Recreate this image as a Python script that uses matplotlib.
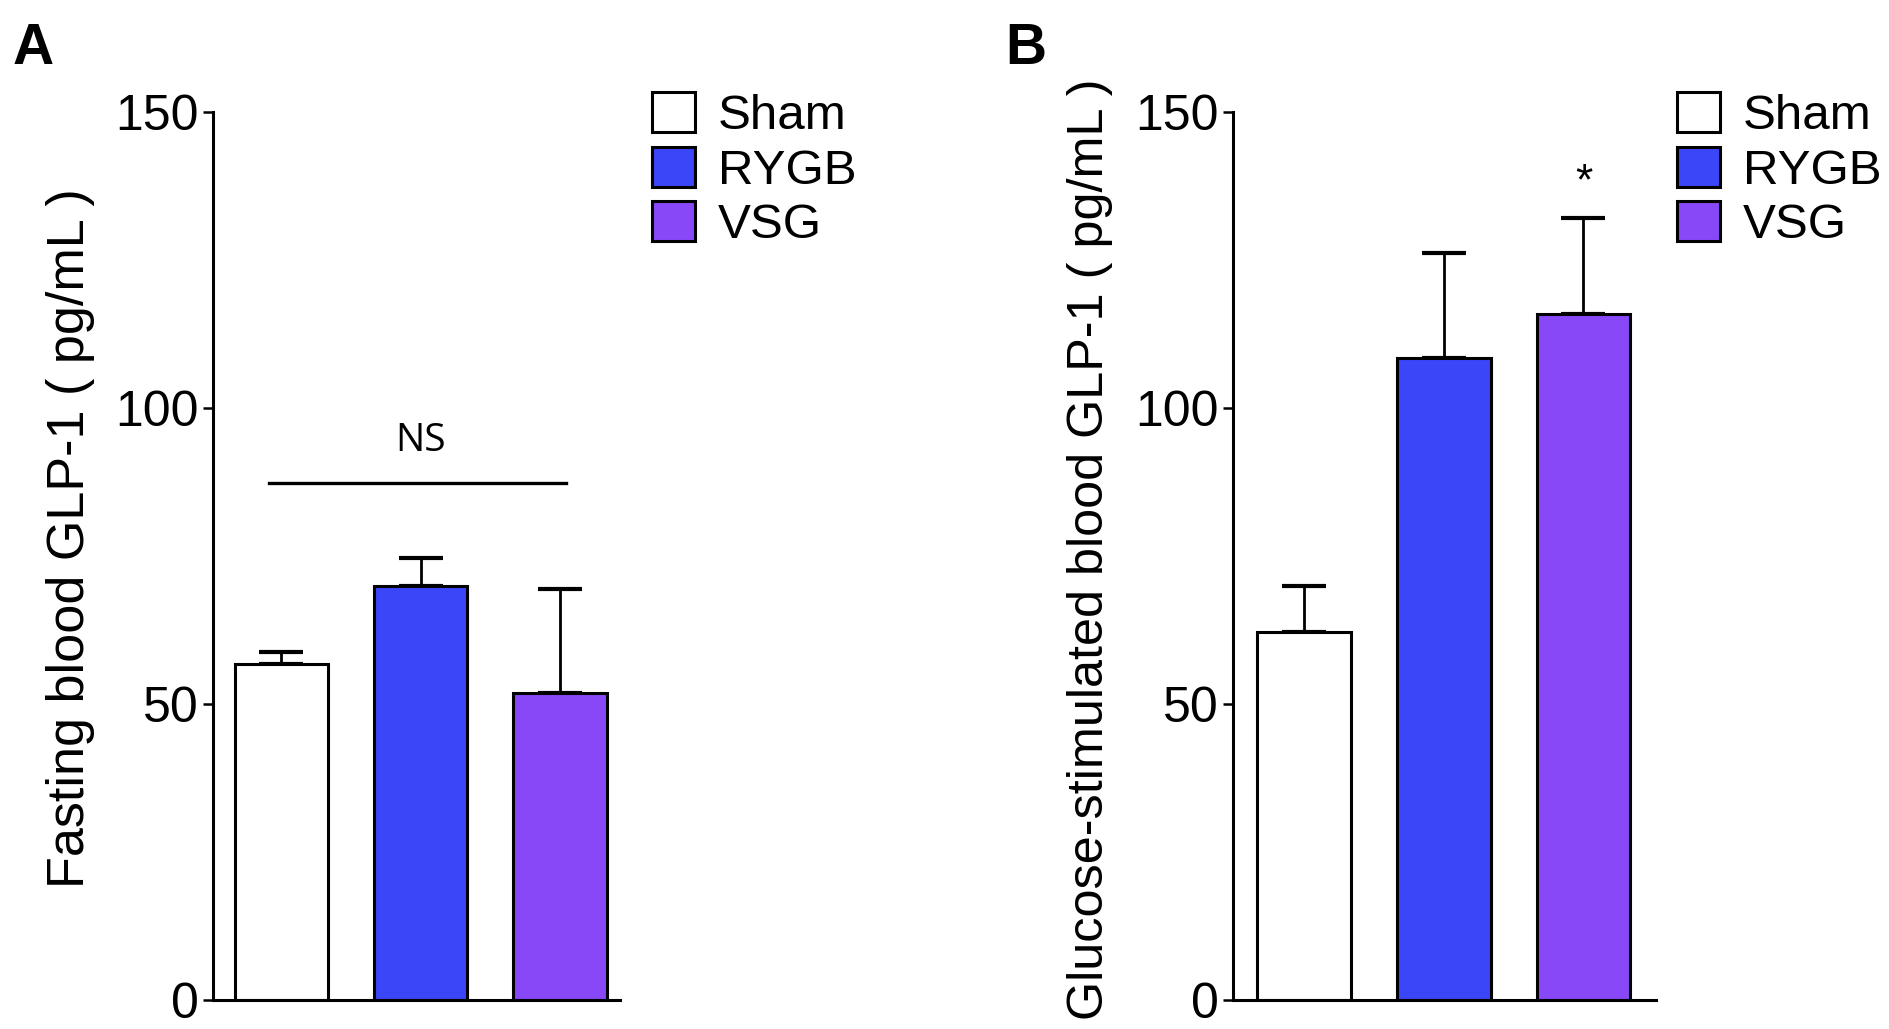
import matplotlib
matplotlib.use("Agg")
import matplotlib.pyplot as plt
import numpy as np

plt.rcParams['font.family'] = ['Liberation Sans', 'DejaVu Sans']

groups = ["Sham", "RYGB", "VSG"]
colors = ["#FFFFFF", "#3A46F8", "#8848F8"]

fasting_mean = [56.8, 70.0, 51.8]
fasting_err = [2.0, 4.7, 17.7]

glucose_mean = [62.2, 108.4, 115.9]
glucose_err = [7.8, 17.7, 16.2]

yticks = [0, 50, 100, 150]
ylabel_a = "Fasting blood GLP-1 ( pg/mL )"
ylabel_b = "Glucose-stimulated blood GLP-1 ( pg/mL )"
ns_level = 87.4
ns_text_level = 94.4
star_level = 138.0

fig = plt.figure(figsize=(18.89, 10.29), dpi=100)
FW, FH = 1889, 1029

def make_ax(left_px, right_px):
    bottom_px, top_px = 1000, 112
    return fig.add_axes([left_px / FW, (FH - bottom_px) / FH,
                         (right_px - left_px) / FW, (bottom_px - top_px) / FH])

def style(ax, xlim, ylabel, label_xy, label_size):
    ax.set_ylim(0, 150)
    ax.set_xlim(*xlim)
    ax.set_yticks(yticks)
    ax.set_yticklabels([str(t) for t in yticks], fontsize=36)
    ax.set_xticks([])
    for s in ["top", "right"]:
        ax.spines[s].set_visible(False)
    for s in ["left", "bottom"]:
        ax.spines[s].set_linewidth(2.2)
    ax.tick_params(axis="y", length=7, width=1.8, pad=3.5, direction="out")
    ax.set_ylabel(ylabel, fontsize=label_size)
    ax.yaxis.set_label_coords(*label_xy)

def draw(ax, means, errs):
    x = np.arange(len(groups))
    bars = ax.bar(x, means, width=0.67, color=colors, edgecolor="black",
                  linewidth=2.2, zorder=2)
    ax.errorbar(x, means, yerr=[np.zeros(len(errs)), errs], fmt="none",
                ecolor="black", elinewidth=2.0, capsize=16, capthick=3, zorder=1)
    return bars

def legend(ax, bars, x_px, y_px):
    leg = ax.legend(bars, groups, loc="upper left",
                    bbox_to_anchor=(x_px / FW, (FH - y_px) / FH),
                    bbox_transform=fig.transFigure, frameon=False, fontsize=35.5,
                    borderpad=0, borderaxespad=0, handlelength=0.88,
                    handleheight=0.88, handletextpad=0.45, labelspacing=0.15)
    for p in leg.get_patches():
        p.set_linewidth(2.2)
    return leg

# Panel A
axA = make_ax(213, 620)
barsA = draw(axA, fasting_mean, fasting_err)
style(axA, (-0.49, 2.43), ylabel_a, (-0.29, 0.52), 37.5)
legend(axA, barsA, 652, 92)
axA.plot([-0.09, 2.04], [ns_level, ns_level], color="black", lw=2.4, clip_on=False)
axA.text(1.0, ns_text_level, "NS", ha="center", va="center", fontsize=28,
         family=["Open Sans", "DejaVu Sans"])

# Panel B
axB = make_ax(1233, 1656)
barsB = draw(axB, glucose_mean, glucose_err)
style(axB, (-0.51, 2.52), ylabel_b, (-0.283, 0.508), 36.3)
legend(axB, barsB, 1677, 92)
axB.text(2.0, star_level, "*", ha="center", va="center", fontsize=32)

fig.text(13 / FW, (FH - 64) / FH, "A", fontsize=41, fontweight="bold", ha="left", va="baseline")
fig.text(1005 / FW, (FH - 64) / FH, "B", fontsize=41, fontweight="bold", ha="left", va="baseline")

fig.savefig("out.png", dpi=100, facecolor="white")
